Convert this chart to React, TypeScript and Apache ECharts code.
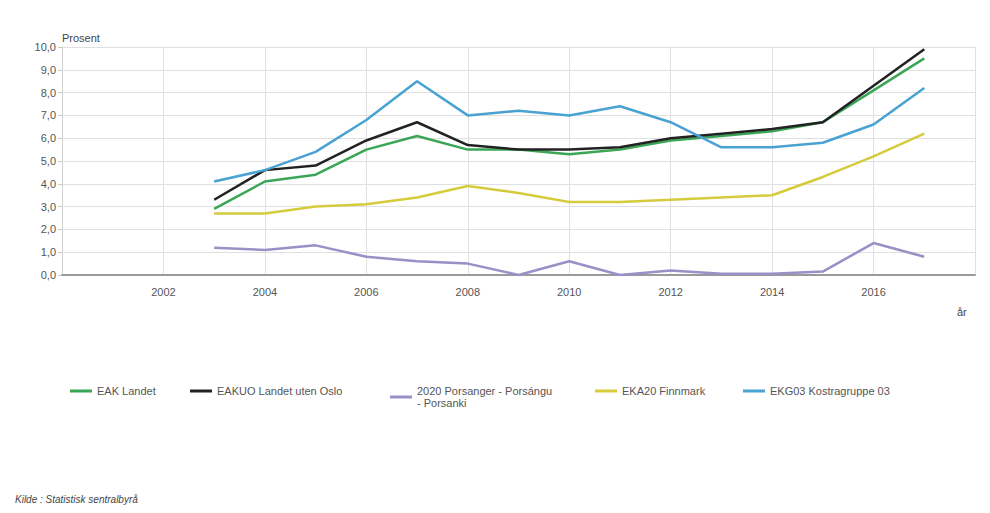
import React, { useEffect, useRef } from "react";
import * as echarts from "echarts";

const years = [2003, 2004, 2005, 2006, 2007, 2008, 2009, 2010, 2011, 2012, 2013, 2014, 2015, 2016, 2017];
const eakLandet = [2.9, 4.1, 4.4, 5.5, 6.1, 5.5, 5.5, 5.3, 5.5, 5.9, 6.1, 6.3, 6.7, 8.1, 9.5];
const eakuoLandetUtenOslo = [3.3, 4.6, 4.8, 5.9, 6.7, 5.7, 5.5, 5.5, 5.6, 6.0, 6.2, 6.4, 6.7, 8.3, 9.9];
const porsanger = [1.2, 1.1, 1.3, 0.8, 0.6, 0.5, 0.0, 0.6, 0.0, 0.2, 0.05, 0.05, 0.15, 1.4, 0.8];
const finnmark = [2.7, 2.7, 3.0, 3.1, 3.4, 3.9, 3.6, 3.2, 3.2, 3.3, 3.4, 3.5, 4.3, 5.2, 6.2];
const kostragruppe03 = [4.1, 4.6, 5.4, 6.8, 8.5, 7.0, 7.2, 7.0, 7.4, 6.7, 5.6, 5.6, 5.8, 6.6, 8.2];

const seriesNames = [
  "EAK Landet",
  "EAKUO Landet uten Oslo",
  "2020 Porsanger - Porsángu\n- Porsanki",
  "EKA20 Finnmark",
  "EKG03 Kostragruppe 03",
];
const seriesColors = ["#3aa655", "#222222", "#9a8fc6", "#d6cb3c", "#48a2d2"];
const seriesData = [eakLandet, eakuoLandetUtenOslo, porsanger, finnmark, kostragruppe03];
const legendLefts = [65, 185, 385, 590, 738];

const FONT = "Liberation Sans, Arial, sans-serif";

export default function App() {
  const ref = useRef<HTMLDivElement>(null);
  useEffect(() => {
    if (!ref.current) return;
    const chart = echarts.init(ref.current, null, { renderer: "svg" });
    chart.setOption({
      animation: false,
      backgroundColor: "#ffffff",
      grid: { left: 62, right: 15, top: 47, bottom: 238, containLabel: false },
      xAxis: {
        type: "value",
        min: 2000,
        max: 2018,
        interval: 2,
        axisLine: { show: true, lineStyle: { color: "#9a9a9a", width: 2 } },
        axisTick: { show: false },
        axisLabel: {
          color: "#555",
          fontSize: 11,
          fontFamily: FONT,
          margin: 11,
          formatter: (v: number) => (v === 2000 || v === 2018 ? "" : String(v)),
        },
        splitLine: { show: true, lineStyle: { color: "#e0e0e0", width: 1 } },
      },
      yAxis: {
        type: "value",
        min: 0,
        max: 10,
        interval: 1,
        axisLine: { show: true, lineStyle: { color: "#d0d0d0" } },
        axisTick: { show: true, length: 4, lineStyle: { color: "#c8c8c8" } },
        axisLabel: {
          color: "#555",
          fontSize: 11,
          fontFamily: FONT,
          margin: 6,
          formatter: (v: number) => v.toFixed(1).replace(".", ","),
        },
        splitLine: { show: true, lineStyle: { color: "#e0e0e0", width: 1 } },
      },
      legend: seriesNames.map((name, i) => ({
        data: [{ name, icon: "rect" }],
        left: legendLefts[i],
        top: i === 2 ? 380 : 380,
        itemWidth: 22,
        itemHeight: 3,
        itemGap: 0,
        selectedMode: false,
        textStyle: { color: "#555", fontSize: 11, fontFamily: FONT, lineHeight: 12 },
      })),
      series: seriesNames.map((name, i) => ({
        name,
        type: "line",
        data: years.map((y, j) => [y, seriesData[i][j]]),
        showSymbol: false,
        symbol: "none",
        color: seriesColors[i],
        lineStyle: { width: 2.5, color: seriesColors[i] },
      })),
      graphic: [
        {
          type: "text",
          left: 62,
          top: 32,
          style: { text: "Prosent", fill: "#444", fontSize: 11, fontFamily: FONT },
        },
        {
          type: "text",
          left: 957,
          top: 306,
          style: { text: "år", fill: "#444", fontSize: 11, fontFamily: FONT },
        },
        {
          type: "text",
          left: 15,
          top: 494,
          style: {
            text: "Kilde : Statistisk sentralbyrå",
            fill: "#444",
            fontSize: 10,
            fontStyle: "italic",
            fontFamily: FONT,
          },
        },
      ],
    });
    return () => chart.dispose();
  }, []);
  return (
    <div
      ref={ref}
      style={{ position: "fixed", left: 0, top: 0, width: 990, height: 513, background: "#fff" }}
    />
  );
}
